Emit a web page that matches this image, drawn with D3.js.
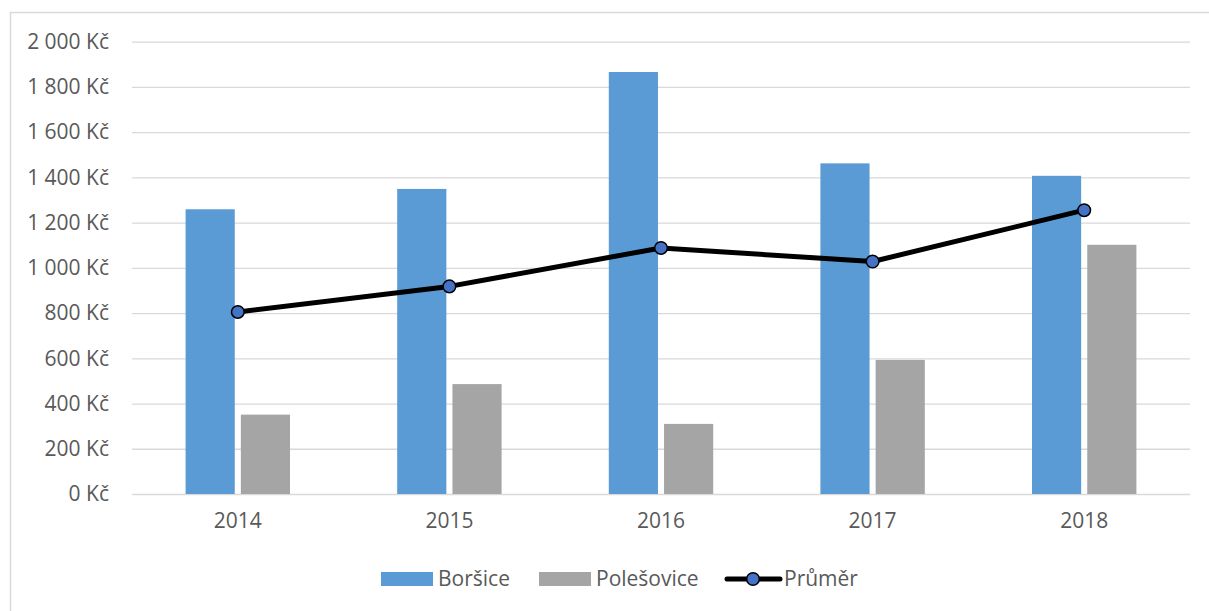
<!DOCTYPE html>
<html>
<head>
<meta charset="utf-8">
<script src="https://cdn.jsdelivr.net/npm/d3@7"></script>
<style>
  body { margin: 0; background: #fff; }
  svg { font-family: 'Open Sans', sans-serif; }
</style>
</head>
<body>
<script>
var years = ['2014', '2015', '2016', '2017', '2018'];
var borsice = [1259, 1349, 1866, 1462, 1407];
var polesovice = [351, 486, 310, 593, 1102];
var prumer = [805, 918, 1088, 1028, 1255];
var yTicks = [0, 200, 400, 600, 800, 1000, 1200, 1400, 1600, 1800, 2000];
var seriesNames = ['Boršice', 'Polešovice', 'Průměr'];

var width = 1209,
    height = 611;

var colors = { bor: '#5b9bd5', pol: '#a5a5a5', avg: '#4472c4', text: '#595959', grid: '#d9d9d9' };

var svg = d3.select('body')
  .append('svg')
  .attr('width', width)
  .attr('height', height);

// chart border
svg.append('rect')
  .attr('x', 10.5)
  .attr('y', 12.5)
  .attr('width', 1210)
  .attr('height', 620)
  .attr('fill', 'none')
  .attr('stroke', colors.grid)
  .attr('stroke-width', 1.5);

var locale = d3.formatLocale({ decimal: ',', thousands: ' ', grouping: [3], currency: ['', ' Kč'] });
var fmt = locale.format('$,.0f');

var x0 = d3.scaleBand().domain(years).range([132, 1190]);
var x1 = d3.scaleBand().domain(['bor', 'pol']).range([0, 104.4]).paddingInner(0.11);
var y = d3.scaleLinear().domain([0, 2000]).range([494, 41.7]);

function center(d) { return x0(d) + x0.bandwidth() / 2; }

// gridlines
svg.append('g')
  .attr('transform', 'translate(132,0)')
  .call(d3.axisLeft(y).tickValues(yTicks).tickSize(-(1190 - 132)).tickFormat(''))
  .call(function(g) { g.select('.domain').remove(); })
  .selectAll('line')
  .attr('stroke', colors.grid)
  .attr('stroke-width', 1.3);

// y labels
var yAxis = svg.append('g')
  .attr('transform', 'translate(132,0)')
  .call(d3.axisLeft(y).tickValues(yTicks).tickSize(0).tickPadding(23).tickFormat(fmt));
yAxis.select('.domain').remove();
yAxis.selectAll('text')
  .attr('fill', colors.text)
  .attr('font-size', '21px')
  .attr('font-family', "'Open Sans', sans-serif");

// x labels
var xAxis = svg.append('g')
  .attr('transform', 'translate(0,494)')
  .call(d3.axisBottom(x0).tickSize(0).tickPadding(19));
xAxis.select('.domain').remove();
xAxis.selectAll('text')
  .attr('fill', colors.text)
  .attr('font-size', '21px')
  .attr('font-family', "'Open Sans', sans-serif");

// bars
var groups = svg.append('g').selectAll('g')
  .data(years)
  .enter().append('g')
  .attr('transform', function(d) { return 'translate(' + (center(d) - 52.2) + ',0)'; });

groups.append('rect')
  .attr('x', x1('bor'))
  .attr('width', x1.bandwidth())
  .attr('y', function(d, i) { return y(borsice[i]); })
  .attr('height', function(d, i) { return y(0) - y(borsice[i]); })
  .attr('fill', colors.bor);

groups.append('rect')
  .attr('x', x1('pol'))
  .attr('width', x1.bandwidth())
  .attr('y', function(d, i) { return y(polesovice[i]); })
  .attr('height', function(d, i) { return y(0) - y(polesovice[i]); })
  .attr('fill', colors.pol);

// average line
var line = d3.line()
  .x(function(d, i) { return center(years[i]); })
  .y(function(d) { return y(d); });

svg.append('path')
  .datum(prumer)
  .attr('d', line)
  .attr('fill', 'none')
  .attr('stroke', '#000')
  .attr('stroke-width', 5)
  .attr('stroke-linejoin', 'round');

svg.append('g').selectAll('circle')
  .data(prumer)
  .enter().append('circle')
  .attr('cx', function(d, i) { return center(years[i]); })
  .attr('cy', function(d) { return y(d); })
  .attr('r', 6.3)
  .attr('fill', colors.avg)
  .attr('stroke', '#000')
  .attr('stroke-width', 1.5);

// legend
var legend = svg.append('g').attr('font-size', '21px').attr('fill', colors.text);

legend.append('rect').attr('x', 381).attr('y', 572).attr('width', 52).attr('height', 14).attr('fill', colors.bor);
legend.append('text').attr('x', 438).attr('y', 579).attr('dy', '0.35em').text(seriesNames[0]);

legend.append('rect').attr('x', 539).attr('y', 572).attr('width', 52).attr('height', 14).attr('fill', colors.pol);
legend.append('text').attr('x', 596).attr('y', 579).attr('dy', '0.35em').text(seriesNames[1]);

legend.append('line').attr('x1', 727).attr('x2', 780).attr('y1', 579).attr('y2', 579)
  .attr('stroke', '#000').attr('stroke-width', 5).attr('stroke-linecap', 'round');
legend.append('circle').attr('cx', 753).attr('cy', 579).attr('r', 6.3)
  .attr('fill', colors.avg).attr('stroke', '#000').attr('stroke-width', 1.5);
legend.append('text').attr('x', 784).attr('y', 579).attr('dy', '0.35em').text(seriesNames[2]);
</script>
</body>
</html>
